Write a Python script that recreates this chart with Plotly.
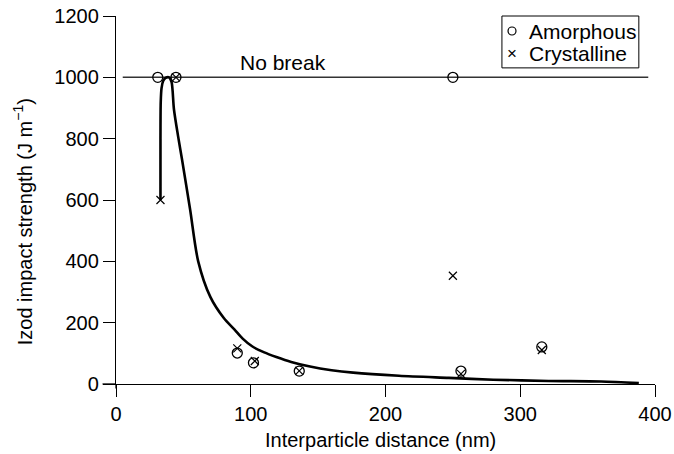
import plotly.graph_objects as go

# measured points (nm, J/m)
amorph_x = [31, 44.5, 250, 90, 102, 136, 256, 316]
amorph_y = [1000, 1000, 1000, 101, 69, 42, 42, 121]

cryst_x = [33, 44.5, 90, 103, 136, 250, 256, 316]
cryst_y = [600, 1000, 116, 75, 43, 353, 33, 111]

# hand-drawn trend curve
curve_x = [33, 33, 33.2, 33.8, 35, 36.8, 39.3, 41.2, 43, 46, 49, 55, 61, 70,
           80, 88, 94, 101, 110, 119, 130, 144, 160, 176, 210, 247, 280, 321, 360, 388]
curve_y = [600, 800, 920, 965, 988, 998, 1000, 985, 896, 810, 732, 569, 400, 284,
           215, 177, 148, 123, 103, 88, 72, 57, 45, 37, 27, 20, 14, 10, 8, 3]

nobreak_x = [5, 395]
nobreak_y = [1000, 1000]

legend_labels = ["Amorphous", "Crystalline"]

FONT = "Liberation Sans, Arial, Helvetica, sans-serif"

fig = go.Figure()
fig.add_trace(go.Scatter(
    x=nobreak_x, y=nobreak_y, mode="lines",
    line=dict(color="#333333", width=1.5), showlegend=False, hoverinfo="skip",
))
fig.add_trace(go.Scatter(
    x=curve_x, y=curve_y, mode="lines",
    line=dict(color="black", width=2.6, shape="spline", smoothing=0.8),
    showlegend=False, hoverinfo="skip",
))
fig.add_trace(go.Scatter(
    x=amorph_x, y=amorph_y, mode="markers", name=legend_labels[0], showlegend=False,
    marker=dict(symbol="circle-open", size=10, color="black", line=dict(width=1.3)),
    cliponaxis=False,
))
fig.add_trace(go.Scatter(
    x=cryst_x, y=cryst_y, mode="markers", name=legend_labels[1], showlegend=False,
    marker=dict(symbol="x-thin-open", size=8, color="black", line=dict(width=1.2, color="black")),
    cliponaxis=False,
))

fig.add_annotation(
    x=124, y=1050, text="No break", showarrow=False,
    font=dict(family=FONT, size=21, color="black"),
)

# axis titles placed by hand
fig.add_annotation(
    xref="paper", yref="paper", x=0.49, y=-0.152, xanchor="center", yanchor="middle",
    text="Interparticle distance (nm)", showarrow=False,
    font=dict(family=FONT, size=20, color="black"),
)
fig.add_annotation(
    xref="paper", yref="paper", x=-0.174, y=0.44, xanchor="center", yanchor="middle",
    text="Izod impact strength (J m<sup>\u22121</sup>)", textangle=-90, showarrow=False,
    font=dict(family=FONT, size=20, color="black"),
)

# compact boxed legend, like the printed figure
fig.add_shape(type="rect", xref="paper", yref="paper", x0=0.716, x1=0.970, y0=0.859, y1=1.0,
              line=dict(color="black", width=1), fillcolor="white", layer="above")
fig.add_shape(type="circle", xref="paper", yref="paper", x0=0.7273, x1=0.7421, y0=0.9484, y1=0.9701,
              line=dict(color="black", width=1.2), layer="above")
fig.add_annotation(
    xref="paper", yref="paper", x=0.7347, y=0.899, xanchor="center", yanchor="middle",
    text="\u00d7", showarrow=False, font=dict(family=FONT, size=17, color="black"),
)
for label, ypos in zip(legend_labels, [0.959, 0.899]):
    fig.add_annotation(
        xref="paper", yref="paper", x=0.7625, y=ypos, xanchor="left", yanchor="middle",
        text=label, showarrow=False, font=dict(family=FONT, size=21, color="black"),
    )

# small overhang of the axis lines past the origin
fig.add_shape(type="line", xref="paper", yref="paper", x0=-0.025, x1=0, y0=0, y1=0,
              line=dict(color="black", width=1.3))
fig.add_shape(type="line", xref="paper", yref="paper", x0=0, x1=0, y0=-0.012, y1=0,
              line=dict(color="black", width=1.3))

axis_common = dict(
    showline=True, linecolor="black", linewidth=1.3,
    ticks="outside", ticklen=12, tickwidth=1.3, tickcolor="black",
    showgrid=False, zeroline=False, automargin=False, ticklabeloverflow="allow",
    tickfont=dict(family=FONT, size=20, color="black"),
)

fig.update_layout(
    width=674, height=454,
    margin=dict(l=116, r=19, t=16, b=70),
    plot_bgcolor="white", paper_bgcolor="white",
    font=dict(family=FONT, size=20, color="black"),
    xaxis=dict(range=[0, 400], tickvals=[0, 100, 200, 300, 400], **axis_common),
    yaxis=dict(range=[0, 1200], tickvals=[0, 200, 400, 600, 800, 1000, 1200], **axis_common),
    showlegend=False,
)

# drop the default 8px body margin so the figure sits at the page origin
fig.write_html(
    "out.html",
    config={"displayModeBar": False},
    post_script="document.body.style.margin='0';",
)
